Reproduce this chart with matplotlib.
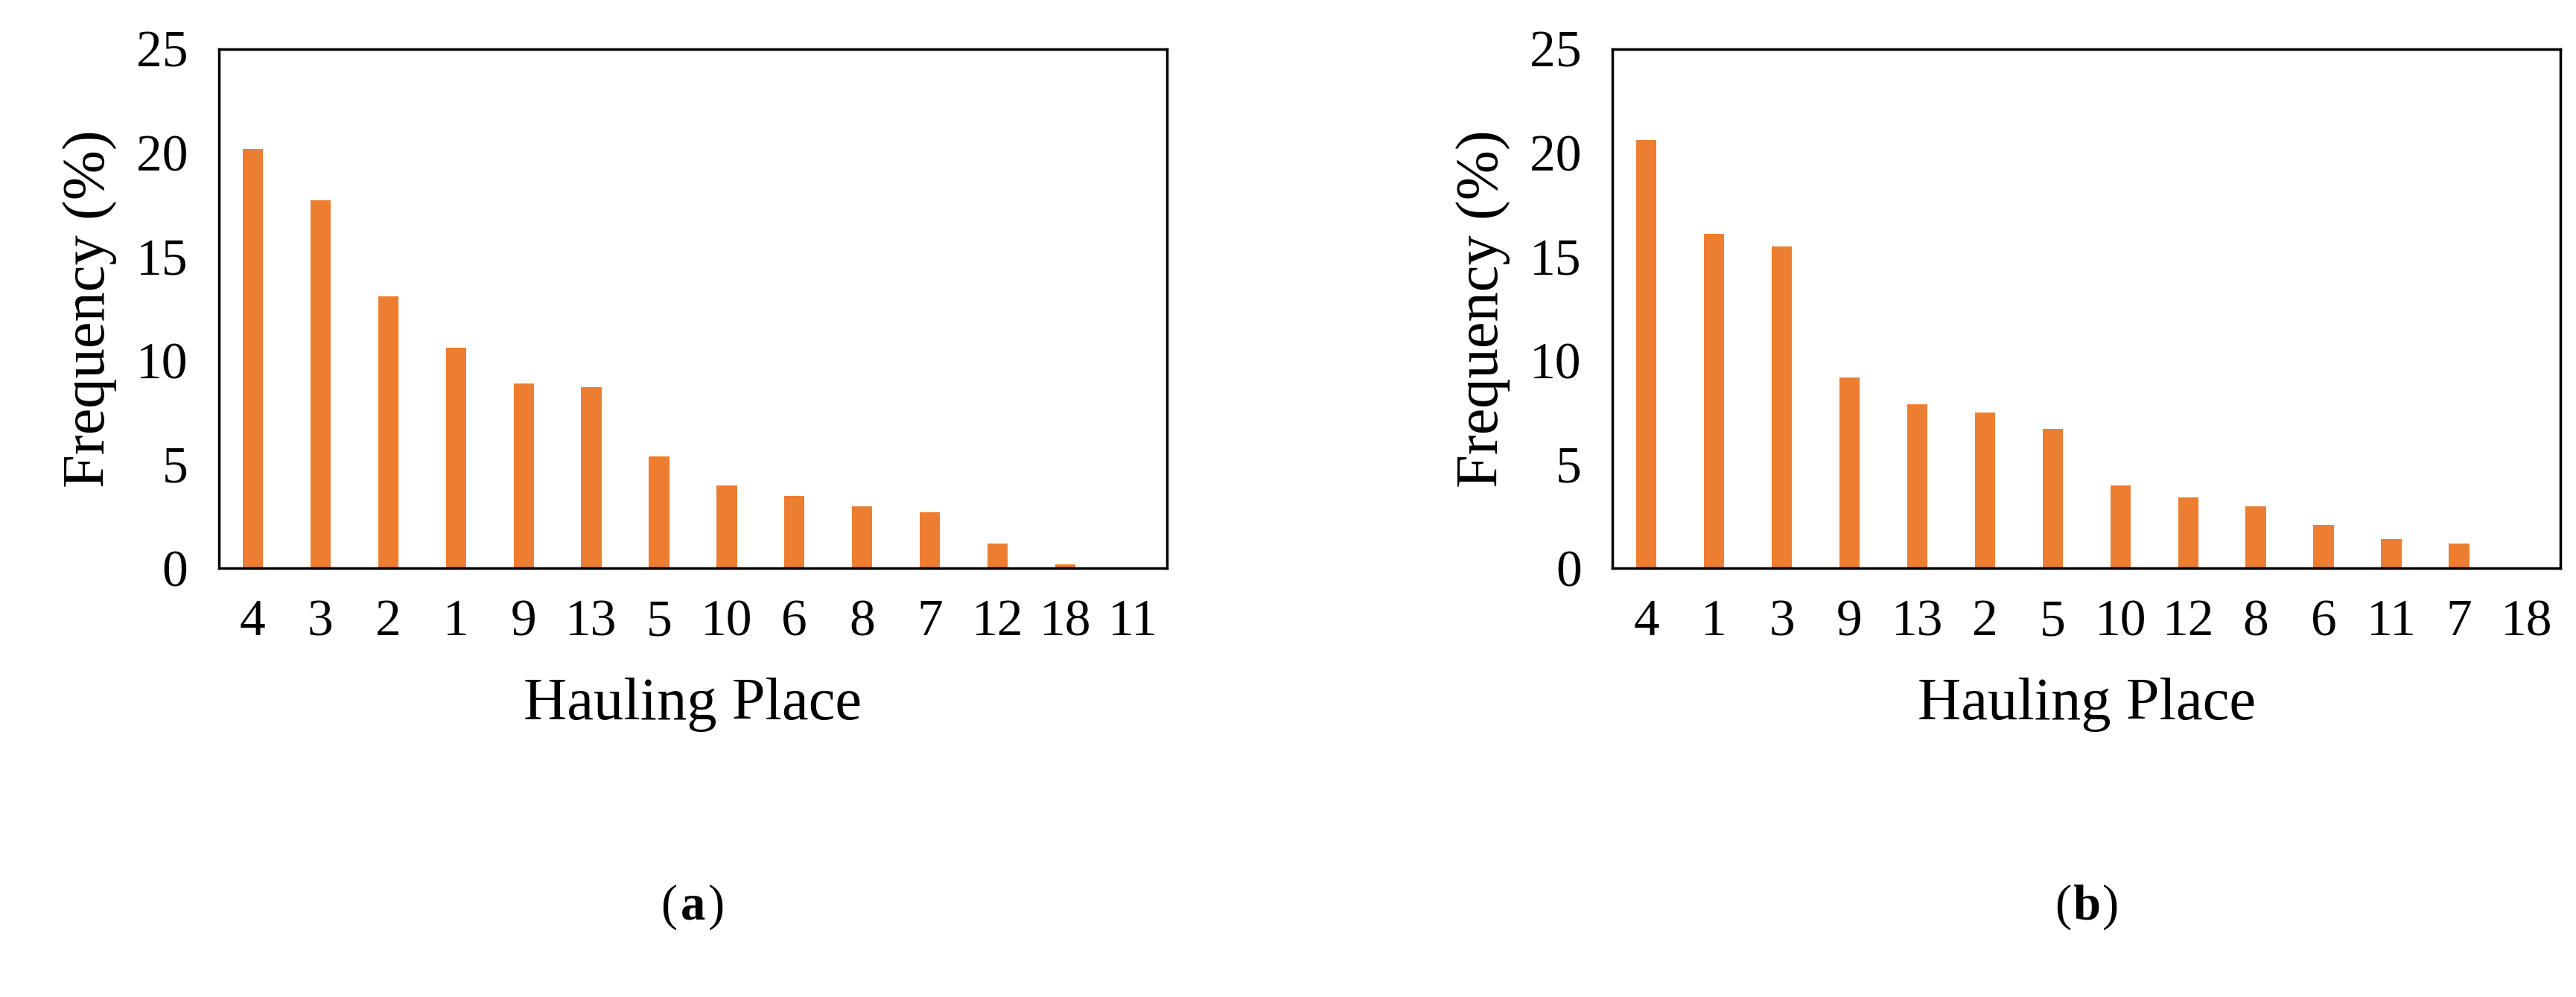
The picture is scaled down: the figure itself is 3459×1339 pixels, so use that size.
import matplotlib.pyplot as plt

places_a = ['4', '3', '2', '1', '9', '13', '5', '10', '6', '8', '7', '12', '18', '11']
freq_a = [20.2, 17.7, 13.1, 10.6, 8.9, 8.7, 5.4, 4.0, 3.5, 3.0, 2.7, 1.2, 0.2, 0.0]
places_b = ['4', '1', '3', '9', '13', '2', '5', '10', '12', '8', '6', '11', '7', '18']
freq_b = [20.6, 16.1, 15.5, 9.2, 7.9, 7.5, 6.7, 4.0, 3.4, 3.0, 2.1, 1.4, 1.2, 0.0]

plt.rcParams['font.family'] = ['Liberation Serif', 'DejaVu Serif']
fig = plt.figure(figsize=(34.59, 13.39), dpi=100)

panels = [(0.085, places_a, freq_a, 'a'), (0.626, places_b, freq_b, 'b')]
for left, places, freq, tag in panels:
    ax = fig.add_axes([left, 0.430, 0.368, 0.521])
    ax.bar(range(len(places)), freq, width=0.3, color='#ED7D31')
    ax.set_xticks(range(len(places)))
    ax.set_xticklabels(places)
    ax.set_xlim(-0.5, len(places) - 0.5)
    ax.set_ylim(0, 25)
    ax.set_yticks([0, 5, 10, 15, 20, 25])
    ax.tick_params(labelsize=50, length=0, pad=30)
    for s in ax.spines.values():
        s.set_linewidth(2.5)
    ax.set_xlabel('Hauling Place', fontsize=58, labelpad=30)
    ax.set_ylabel('Frequency (%)', fontsize=58, labelpad=18)
    fig.text(left + 0.184, 0.09, r'(' + tag + ')', fontsize=48, ha='center', va='center', alpha=0)
    fig.text(left + 0.184, 0.09, '(', fontsize=48, ha='right', va='center', x=None) if False else None
    t1 = fig.text(left + 0.184, 0.09, tag, fontsize=48, fontweight='bold', ha='center', va='center')
    fig.text(left + 0.184 - 0.006, 0.09, '(', fontsize=48, ha='right', va='center')
    fig.text(left + 0.184 + 0.006, 0.09, ')', fontsize=48, ha='left', va='center')

fig.savefig('out.png')
